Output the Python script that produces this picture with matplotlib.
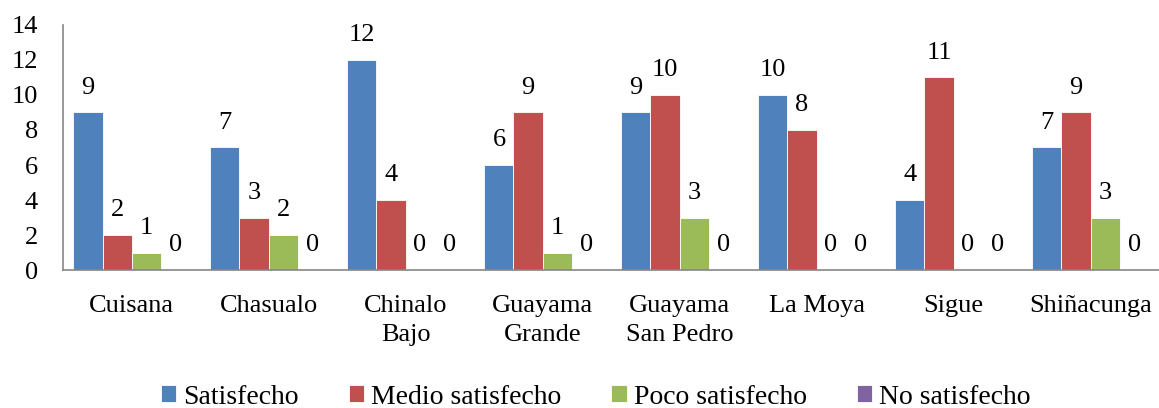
import numpy as np
import matplotlib.pyplot as plt

# Datos por comunidad
comunidades = ['Cuisana', 'Chasualo', 'Chinalo\nBajo', 'Guayama\nGrande',
               'Guayama\nSan Pedro', 'La Moya', 'Sigue', 'Shiñacunga']
satisfecho = [9, 7, 12, 6, 9, 10, 4, 7]
medio_satisfecho = [2, 3, 4, 9, 10, 8, 11, 9]
poco_satisfecho = [1, 2, 0, 1, 3, 0, 0, 3]
no_satisfecho = [0, 0, 0, 0, 0, 0, 0, 0]

series = [
    ('Satisfecho', satisfecho, '#4F81BD'),
    ('Medio satisfecho', medio_satisfecho, '#C0504D'),
    ('Poco satisfecho', poco_satisfecho, '#9BBB59'),
    ('No satisfecho', no_satisfecho, '#8064A2'),
]

plt.rcParams['font.family'] = ['Liberation Serif', 'DejaVu Serif']

fig = plt.figure(figsize=(11.59, 4.08), dpi=100)
ax = fig.add_axes([0.0544, 0.338, 0.9456, 0.601])

x = np.arange(len(comunidades))
ancho = 0.212
for i, (nombre, valores, color) in enumerate(series):
    pos = x + (i - 1.5) * ancho
    ax.bar(pos, valores, ancho, color=color, label=nombre,
           edgecolor='white', linewidth=0.6)
    for xb, v in zip(pos, valores):
        ax.annotate(str(v), (xb, v), xytext=(0, 10), textcoords='offset points',
                    ha='center', va='bottom', fontsize=19)

ax.set_xlim(-0.5, len(comunidades) - 0.5)
ax.set_ylim(0, 14)
ax.set_yticks(range(0, 15, 2))
ax.set_xticks(x)
ax.set_xticklabels(comunidades, fontsize=19, linespacing=1.4)
ax.tick_params(axis='y', length=0, pad=18, labelsize=19)
ax.tick_params(axis='x', length=0, pad=18)

for lado in ['top', 'right']:
    ax.spines[lado].set_visible(False)
for lado in ['left', 'bottom']:
    ax.spines[lado].set_color('#868686')
    ax.spines[lado].set_linewidth(1.2)

fig.legend(loc='lower center', bbox_to_anchor=(0.514, -0.065), ncol=4,
           frameon=False, fontsize=20, handlelength=0.55, handleheight=0.55,
           handletextpad=0.25, columnspacing=1.8)

fig.savefig('out.png', dpi=100)
